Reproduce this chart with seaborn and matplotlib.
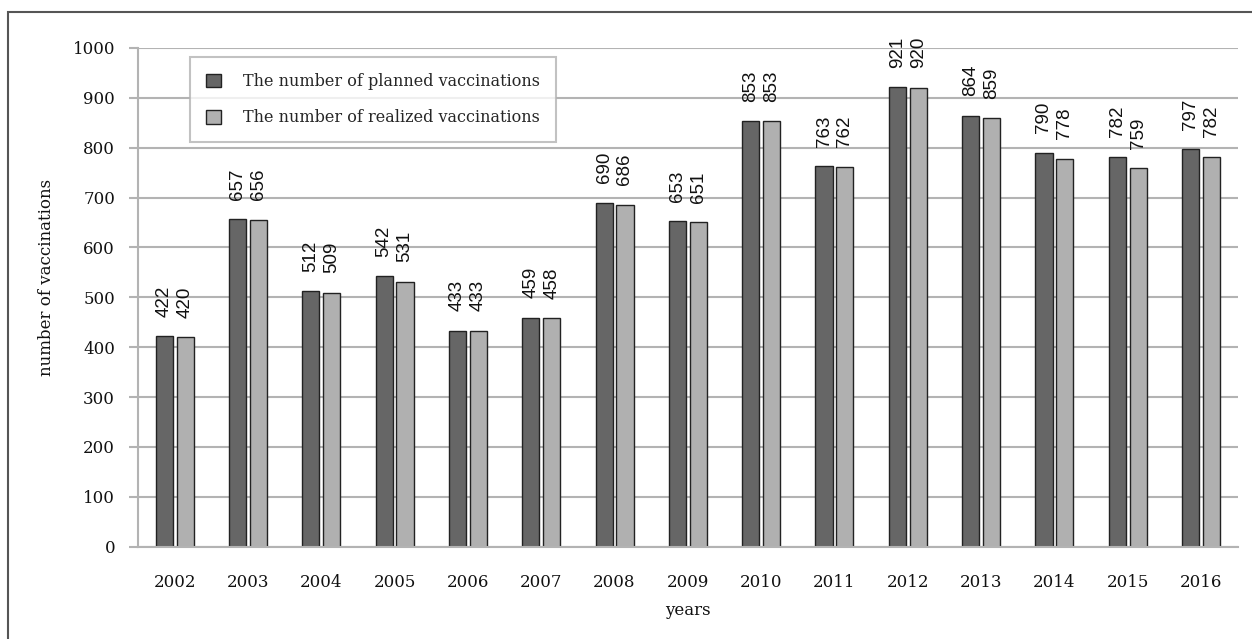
import numpy as np
import pandas as pd
import seaborn as sns
from matplotlib import pyplot as plt, patches

years = ["2002", "2003", "2004", "2005", "2006", "2007", "2008", "2009",
         "2010", "2011", "2012", "2013", "2014", "2015", "2016"]
planned = [422, 657, 512, 542, 433, 459, 690, 653, 853, 763, 921, 864, 790, 782, 797]
realized = [420, 656, 509, 531, 433, 458, 686, 651, 853, 762, 920, 859, 778, 759, 782]
series_names = ["The number of planned vaccinations",
                "The number of realized vaccinations"]
series_colors = ["#666666", "#b0b0b0"]

sns.set_theme(style="white")
plt.rcParams["font.family"] = ["DejaVu Serif"]

df = pd.DataFrame({
    "year": years * 2,
    "value": planned + realized,
    "series": [series_names[0]] * len(years) + [series_names[1]] * len(years),
})

fig = plt.figure(figsize=(12.52, 6.39), dpi=100)
ax = fig.add_axes([0.1102, 0.1445, 0.8784, 0.7804])

sns.barplot(df, x="year", y="value", hue="series", palette=series_colors,
            width=0.57, gap=0.18, edgecolor="#222222", linewidth=1.0,
            saturation=1, ax=ax)

# rotated value labels above the bars
for cont in ax.containers:
    ax.bar_label(cont, fmt="%d", rotation=90, padding=14, fontsize=13.5,
                 family=["Liberation Sans", "DejaVu Sans"], color="#111111")

ax.set_ylim(0, 1000)
ax.set_xlim(-0.5, len(years) - 0.5)
ax.set_yticks(np.arange(0, 1001, 100))
ax.set_axisbelow(True)
ax.yaxis.grid(True, color="#b3b3b3", linewidth=1.5)
ax.xaxis.grid(False)

for s in ["top", "right"]:
    ax.spines[s].set_visible(False)
for s in ["left", "bottom"]:
    ax.spines[s].set_color("#b3b3b3")
    ax.spines[s].set_linewidth(1.5)

ax.tick_params(axis="y", which="both", left=True, length=6.5, width=1.5,
               color="#b3b3b3", pad=10, labelsize=12, labelcolor="#111111")
ax.tick_params(axis="x", bottom=False, pad=14, labelsize=12, labelcolor="#111111")

ax.set_xlabel("years", fontsize=12, color="#111111")
ax.set_ylabel("number of vaccinations", fontsize=12, color="#111111")
ax.xaxis.set_label_coords(0.5, -0.11)
ax.yaxis.set_label_coords(-0.075, 0.539)

leg = ax.legend(loc="upper left", bbox_to_anchor=(0.047, 0.982), borderaxespad=0,
                frameon=True, fancybox=False, fontsize=11.5, title=None,
                handlelength=0.95, handleheight=0.95, handletextpad=1.4,
                labelspacing=1.2, borderpad=1.0)
leg.get_frame().set_edgecolor("#b3b3b3")
leg.get_frame().set_linewidth(1.5)

# outer frame, only left and top edges fall inside the image
fig.patches.append(patches.Rectangle((8 / 1252, -0.1), 1.2, 1.1 - 12 / 639,
                                     transform=fig.transFigure, fill=False,
                                     edgecolor="#555555", linewidth=1.5))

fig.savefig("out.png", dpi=100)
